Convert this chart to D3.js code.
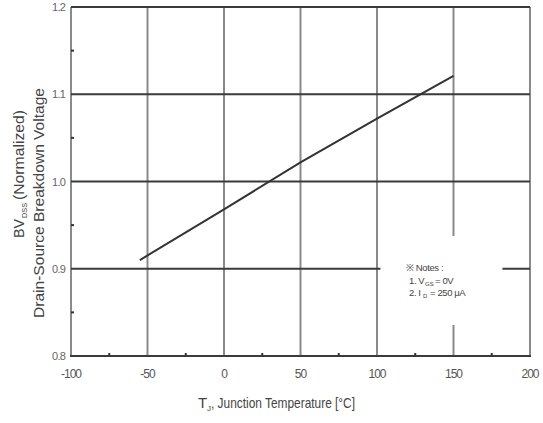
<!DOCTYPE html>
<html><head><meta charset="utf-8">
<script src="https://cdn.jsdelivr.net/npm/d3@7"></script>
<style>body{margin:0;background:#fff}svg{display:block}</style>
</head><body>
<svg id="c" width="543" height="423"></svg>
<script>
const temps = [-55, 0, 50, 100, 150];
const bvdss = [0.910, 0.968, 1.022, 1.072, 1.121];
const xTicks = [-100, -50, 0, 50, 100, 150, 200];
const yTicks = [0.8, 0.9, 1.0, 1.1, 1.2];
const xMinor = [-75, -25, 25, 75, 125, 175];
const yMinor = [0.85, 0.95, 1.05, 1.15];
const notes = ["\u203B Notes :", "1. V", "2. I"];

const svg = d3.select("#c");
const L = 71, R = 530, T = 7, B = 356;
const x = d3.scaleLinear().domain([-100, 200]).range([L, R]);
const y = d3.scaleLinear().domain([0.8, 1.2]).range([B, T]);
const font = "Arial, 'Liberation Sans', sans-serif";

svg.append("g").selectAll("line").data(xTicks).join("line")
  .attr("x1", d => x(d)).attr("x2", d => x(d)).attr("y1", T).attr("y2", B)
  .attr("stroke", "#8a8a8a").attr("stroke-width", 2);
svg.append("g").selectAll("line").data(yTicks.filter(d => d > 0.8)).join("line")
  .attr("x1", L).attr("x2", R).attr("y1", d => y(d)).attr("y2", d => y(d))
  .attr("stroke", "#3a3a3a").attr("stroke-width", 2);
svg.append("line").attr("x1", L - 1).attr("x2", R + 1).attr("y1", B).attr("y2", B)
  .attr("stroke", "#3a3a3a").attr("stroke-width", 2);
svg.append("g").selectAll("line").data(xMinor).join("line")
  .attr("x1", d => x(d)).attr("x2", d => x(d)).attr("y1", B).attr("y2", B - 3)
  .attr("stroke", "#333").attr("stroke-width", 2);
svg.append("g").selectAll("line").data(yMinor).join("line")
  .attr("x1", L).attr("x2", L + 3).attr("y1", d => y(d)).attr("y2", d => y(d))
  .attr("stroke", "#333").attr("stroke-width", 2);

svg.append("rect").attr("x", x(148) - 70).attr("y", 236).attr("width", 122).attr("height", 89)
  .attr("fill", "#fff");

svg.append("path").datum(temps.map((t, i) => [t, bvdss[i]]))
  .attr("d", d3.line().x(d => x(d[0])).y(d => y(d[1])))
  .attr("fill", "none").attr("stroke", "#333").attr("stroke-width", 2);

svg.append("g").selectAll("text").data(yTicks).join("text")
  .attr("x", 65).attr("y", d => y(d) + 4).attr("text-anchor", "end")
  .attr("font-family", font).attr("font-size", 11).attr("fill", "#666")
  .attr("letter-spacing", -0.8)
  .text(d => d.toFixed(1));
svg.append("g").selectAll("text").data(xTicks).join("text")
  .attr("x", d => x(d)).attr("y", 378).attr("text-anchor", "middle")
  .attr("font-family", font).attr("font-size", 12).attr("fill", "#555")
  .attr("letter-spacing", -1)
  .text(d => d);

// x label
const lab = {"font-family": font, "fill": "#444"};
function txt(g, s, size, attrs) {
  const t = g.append("text").attr("font-family", font).attr("fill", "#444").attr("font-size", size).text(s);
  Object.entries(attrs).forEach(([k, v]) => t.attr(k, v));
  return t;
}
txt(svg, "T", 15, {x: 198, y: 408});
txt(svg, "J", 8, {x: 207, y: 411});
txt(svg, ", Junction Temperature [\u00B0C]", 15, {x: 211, y: 408, textLength: 144, lengthAdjust: "spacingAndGlyphs"});

// y label
const g1 = svg.append("g").attr("transform", "translate(24,238) rotate(-90)");
txt(g1, "BV", 15, {x: 0, y: 0, textLength: 19, lengthAdjust: "spacingAndGlyphs"});
txt(g1, "DSS", 8, {x: 20, y: 3, textLength: 15, lengthAdjust: "spacingAndGlyphs"});
txt(g1, "(Normalized)", 15, {x: 38, y: 0, textLength: 90, lengthAdjust: "spacingAndGlyphs"});
svg.append("text").attr("transform", "translate(44,318) rotate(-90)")
  .attr("font-family", font).attr("font-size", 15).attr("fill", "#444")
  .attr("textLength", 230).attr("lengthAdjust", "spacingAndGlyphs")
  .text("Drain-Source Breakdown Voltage");

// notes
const nf = 9.5;
txt(svg, notes[0], nf, {x: 406, y: 271, "letter-spacing": -0.4});
txt(svg, notes[1], nf, {x: 409, y: 284, "letter-spacing": -0.4});
txt(svg, "GS", 6, {x: 425, y: 286});
txt(svg, "= 0V", nf, {x: 435, y: 284, "letter-spacing": -0.4});
txt(svg, notes[2], nf, {x: 409, y: 296, "letter-spacing": -0.4});
txt(svg, "D", 6, {x: 423, y: 298});
txt(svg, "= 250 \u03BCA", nf, {x: 430, y: 296, "letter-spacing": -0.4});
</script>
</body></html>
